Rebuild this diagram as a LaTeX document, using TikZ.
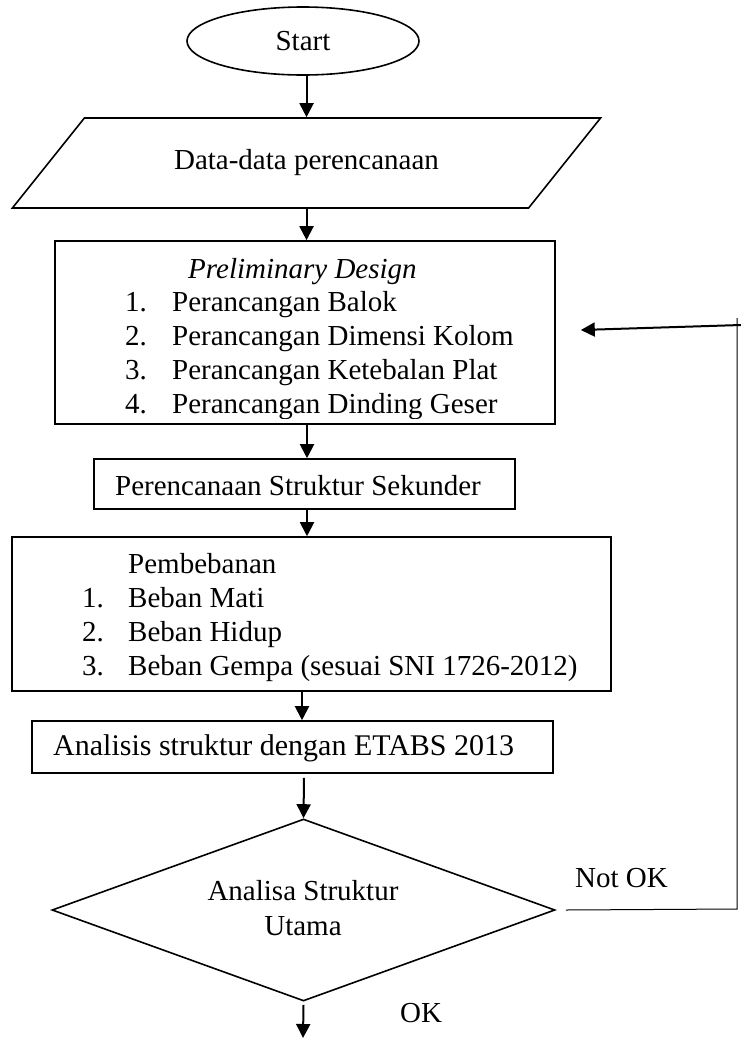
\documentclass[tikz,border=0pt]{standalone}
\usepackage{fontspec}
\setmainfont{Liberation Serif}
\usetikzlibrary{shapes.geometric,arrows.meta}
\begin{document}
\begin{tikzpicture}[x=1pt,y=-1pt,
  font=\fontsize{29}{34}\selectfont,
  box/.style={draw, line width=1.6pt, inner sep=0pt},
  txt/.style={inner sep=0pt, anchor=base west},
  ctr/.style={inner sep=0pt, anchor=base},
  arr/.style={line width=2pt, -{Triangle[length=14pt,width=14pt]}},
  thinline/.style={line width=1pt}]
\useasboundingbox (0,0) rectangle (741,1039);

% Start
\node[box, ellipse, minimum width=232, minimum height=68] (start) at (303,41) {Start};

% Data
\node[box, trapezium, trapezium left angle=31.5, trapezium right angle=148.5,
      trapezium stretches, minimum width=591, minimum height=90] (data) at (306.5,163) {Data-data perencanaan};

% Preliminary design
\node[box, minimum width=500, minimum height=183] (prelim) at (305,332.5) {};
\begin{scope}
\clip (55,241) rectangle (555,418.5);
\node[txt, font=\fontsize{29}{34}\selectfont\itshape] (pd) at (188,278) {Preliminary Design};
\node[txt] (n1) at (125,311) {1.};
\node[txt] (p1) at (172,311) {Perancangan Balok};
\node[txt] (n2) at (125,345) {2.};
\node[txt] (p2) at (172,345) {Perancangan Dimensi Kolom};
\node[txt] (n3) at (125,379) {3.};
\node[txt] (p3) at (172,379) {Perancangan Ketebalan Plat};
\node[txt] (n4) at (125,413) {4.};
\node[txt] (p4) at (172,413) {Perancangan Dinding Geser};
\end{scope}

% Sekunder
\node[box, minimum width=421, minimum height=50] (sek) at (304.5,484) {};
\node[txt] (sekt) at (115,495) {Perencanaan Struktur Sekunder};

% Pembebanan
\node[box, minimum width=599, minimum height=154] (pemb) at (311.5,614) {};
\node[txt] (pbt) at (128,573) {Pembebanan};
\node[txt] (b1n) at (82,607) {1.};
\node[txt] (b1) at (128,607) {Beban Mati};
\node[txt] (b2n) at (82,641) {2.};
\node[txt] (b2) at (128,641) {Beban Hidup};
\node[txt] (b3n) at (82,675) {3.};
\node[txt] (b3) at (128,675) {Beban Gempa (sesuai SNI 1726-2012)};

% ETABS
\node[box, minimum width=521, minimum height=52] (etabs) at (292.5,747) {};
\node[txt, font=\fontsize{30}{34}\selectfont] (etabst) at (53,755) {Analisis struktur dengan ETABS 2013};

% Diamond
\node[box, diamond, minimum width=503, minimum height=182] (dia) at (303.5,910) {};
\node[ctr] (dt1) at (303,900) {Analisa Struktur};
\node[ctr] (dt2) at (303,935) {Utama};

% Labels
\node[txt] (notok) at (575,887) {Not OK};
\node[txt] (ok) at (400,1022) {OK};

% Main arrows
\draw[arr] (start.south -| data.north) -- (data.north);
\draw[arr] (data.south) -- (data.south |- prelim.north);
\draw[arr] ([xshift=2pt]prelim.south) -- ([xshift=2pt]prelim.south |- sek.north);
\draw[arr] ([xshift=2.5pt]sek.south) -- ([xshift=2.5pt]sek.south |- pemb.north);
\draw[arr] (pemb.south -| 302,0) -- (etabs.north -| 302,0);
\draw[arr] ([xshift=11.5pt,yshift=-4pt]etabs.south) -- (dia.north);
\coordinate (okend) at (303,1038);
\draw[arr] ([yshift=-3pt]dia.south) -- (okend);

% Feedback loop
\coordinate (nk1) at ([xshift=10pt]dia.east);
\coordinate (nk2) at (737,909);
\coordinate (nk3) at (737,318);
\draw[thinline] (nk1) -- (nk2) -- (nk3);
\coordinate (fa) at (741,325);
\coordinate (fb) at ([xshift=25pt,yshift=2.5pt]prelim.east);
\draw[arr] (fa) -- (fb);
\end{tikzpicture}
\end{document}
